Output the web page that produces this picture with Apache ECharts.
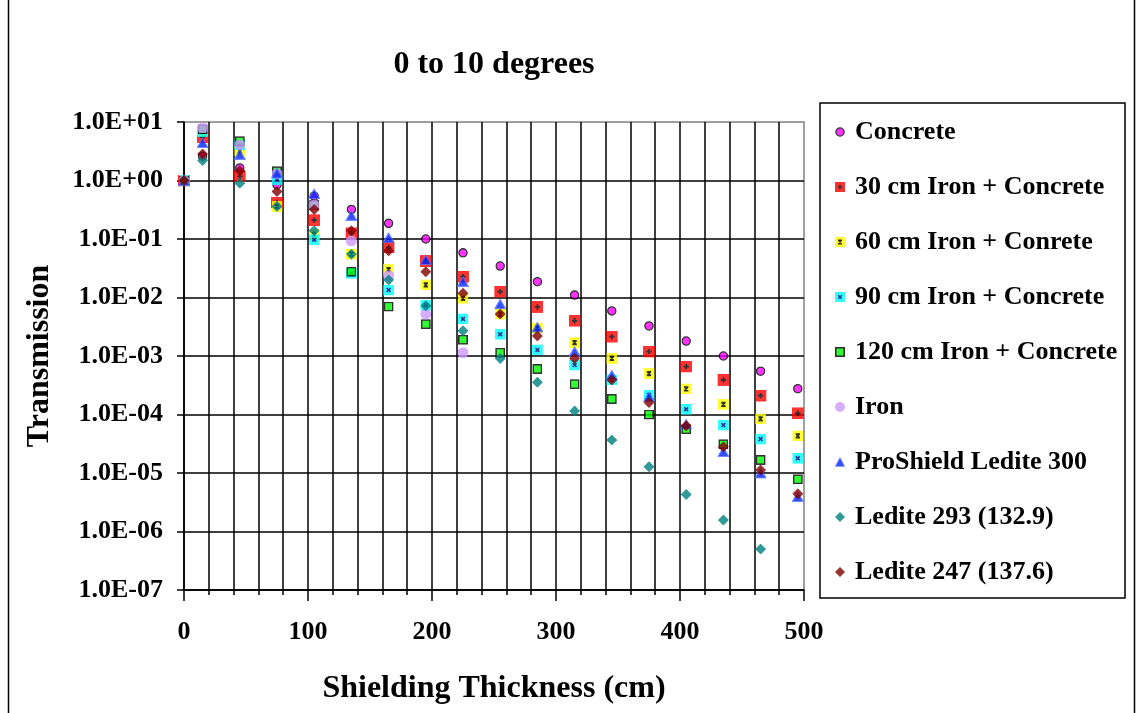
<!DOCTYPE html>
<html><head><meta charset="utf-8">
<script src="https://cdn.jsdelivr.net/npm/echarts@6/dist/echarts.min.js"></script>
<style>html,body{margin:0;padding:0;background:#fff}#c{width:1138px;height:713px}</style>
</head><body><div id="c"></div>
<script>
// ---- data ----
const thickness = [0, 15, 45, 75, 105, 135, 165, 195, 225, 255, 285, 315, 345, 375, 405, 435, 465, 495];
const seriesNames = ['Concrete', '30 cm Iron + Concrete', '60 cm Iron + Conrete', '90 cm Iron + Concrete',
  '120 cm Iron + Concrete', 'Iron', 'ProShield Ledite 300', 'Ledite 293 (132.9)', 'Ledite 247 (137.6)'];
const concrete  = [1.0, 2.6, 1.64, 0.85, 0.54, 0.32, 0.185, 0.100, 0.058, 0.0345, 0.0186, 0.011, 0.0059, 0.00326, 0.0018, 0.0010, 0.00055, 0.000276];
const iron30    = [1.0, 5.5, 1.18, 0.42, 0.21, 0.125, 0.072, 0.042, 0.0227, 0.0126, 0.0069, 0.0040, 0.00214, 0.00119, 0.00066, 0.00039, 0.00021, 0.000105];
const iron60    = [1.0, 7.0, 3.2, 0.36, 0.12, 0.055, 0.030, 0.0164, 0.0097, 0.0052, 0.0030, 0.00169, 0.00091, 0.00050, 0.000273, 0.000149, 0.000084, 0.000043];
const iron90    = [1.0, 6.9, 4.1, 1.03, 0.097, 0.026, 0.0134, 0.0074, 0.0043, 0.00235, 0.00127, 0.00070, 0.00039, 0.000215, 0.000123, 0.000066, 0.000038, 0.0000178];
const iron120   = [1.0, 7.5, 4.7, 1.44, 0.38, 0.0276, 0.0070, 0.0035, 0.0019, 0.00114, 0.00060, 0.00033, 0.000184, 0.000100, 0.000056, 0.000031, 0.0000167, 0.0000078];
const iron      = [1.0, 7.9, 4.1, 1.3, 0.38, 0.093, 0.0236, 0.0052, 0.00114];
const proshield = [1.0, 4.4, 2.76, 1.33, 0.59, 0.25, 0.105, 0.044, 0.0186, 0.0077, 0.0031, 0.00119, 0.00047, 0.00020, 0.000068, 0.000023, 0.0000099, 0.0000039];
const ledite293 = [1.0, 2.2, 0.90, 0.36, 0.139, 0.055, 0.020, 0.0072, 0.0027, 0.00091, 0.000355, 0.000115, 0.0000366, 0.0000128, 0.0000043, 0.00000157, 0.0000005];
const ledite247 = [1.0, 2.84, 1.47, 0.65, 0.32, 0.139, 0.063, 0.0276, 0.0118, 0.0052, 0.0022, 0.00091, 0.00039, 0.000161, 0.000064, 0.000028, 0.0000112, 0.0000044];
const xTickLabels = ['0', '100', '200', '300', '400', '500'];
const yTickLabels = ['1.0E-07', '1.0E-06', '1.0E-05', '1.0E-04', '1.0E-03', '1.0E-02', '1.0E-01', '1.0E+00', '1.0E+01'];

// ---- marker images ----
function svgImg(body) {
  const s = "<svg xmlns='http://www.w3.org/2000/svg' width='20' height='20' viewBox='0 0 20 20'>" + body + "</svg>";
  return 'image://data:image/svg+xml;charset=utf-8,' + encodeURIComponent(s);
}
const markers = [
  {sym: svgImg("<circle cx='10' cy='10' r='8.2' fill='#FF00FF' stroke='#000' stroke-width='2.6'/>"), size: 10},
  {sym: svgImg("<rect x='0' y='0' width='20' height='20' fill='#FF0000'/><path d='M10 5.5V14.5M5.5 10H14.5' stroke='#000' stroke-width='3'/>"), size: 12},
  {sym: svgImg("<rect x='0' y='0' width='20' height='20' fill='#FFFF00'/><path d='M6.5 6.5L13.5 13.5M13.5 6.5L6.5 13.5M6 6.5H14M6 13.5H14' stroke='#000' stroke-width='2.6'/>"), size: 11},
  {sym: svgImg("<rect x='0' y='0' width='20' height='20' fill='#00FFFF'/><path d='M6.5 6.5L13.5 13.5M13.5 6.5L6.5 13.5' stroke='#000080' stroke-width='3'/>"), size: 11},
  {sym: svgImg("<rect x='1.6' y='1.6' width='16.8' height='16.8' fill='#00FF00' stroke='#000' stroke-width='3.2'/>"), size: 10},
  {sym: svgImg("<circle cx='10' cy='10' r='10' fill='#CC99FF'/>"), size: 11},
  {sym: svgImg("<polygon points='10,1.5 19,18.5 1,18.5' fill='#0022FF' stroke='#4D6BFF' stroke-width='2'/>"), size: [12, 11]},
  {sym: svgImg("<polygon points='10,0 20,10 10,20 0,10' fill='#008080'/>"), size: 11},
  {sym: svgImg("<polygon points='10,0 20,10 10,20 0,10' fill='#800000'/>"), size: 11}
];
const allValues = [concrete, iron30, iron60, iron90, iron120, iron, proshield, ledite293, ledite247];

const FONT = "'Liberation Serif', 'Times New Roman', serif";
const series = seriesNames.map((name, i) => ({
  name: name,
  type: 'scatter',
  symbol: markers[i].sym,
  symbolSize: markers[i].size,
  data: allValues[i].map((v, k) => [thickness[k], v]),
  z: 3
}));

const chart = echarts.init(document.getElementById('c'), null, {renderer: 'canvas'});
chart.setOption({
  animation: false,
  backgroundColor: '#fff',
  title: {
    text: '0 to 10 degrees', left: 489, top: 44, textAlign: 'center',
    textStyle: {fontFamily: FONT, fontWeight: 'bold', fontSize: 32, color: '#000'}
  },
  grid: {left: 184, right: 334, top: 122, bottom: 123, show: true, borderColor: '#808080', borderWidth: 1.5, containLabel: false},
  xAxis: {
    type: 'value', min: 0, max: 500, interval: 100,
    axisLine: {show: true, onZero: false, lineStyle: {color: '#000', width: 1.5}},
    axisTick: {show: true, length: 11, lineStyle: {color: '#000', width: 1.5}},
    minorTick: {show: true, splitNumber: 5, length: 5, lineStyle: {color: '#000', width: 1.5}},
    splitLine: {show: true, showMaxLine: false, lineStyle: {color: '#000', width: 1.5}},
    minorSplitLine: {show: true, lineStyle: {color: '#000', width: 1.5}},
    axisLabel: {formatter: v => xTickLabels[Math.round(v / 100)], margin: 29,
      fontFamily: FONT, fontWeight: 'bold', fontSize: 26, color: '#000'},
    name: 'Shielding Thickness (cm)', nameLocation: 'middle', nameGap: 83,
    nameTextStyle: {fontFamily: FONT, fontWeight: 'bold', fontSize: 32, color: '#000'}
  },
  yAxis: {
    type: 'log', logBase: 10, min: 1e-7, max: 10, interval: 1, splitNumber: 8,
    axisLine: {show: true, onZero: false, lineStyle: {color: '#000', width: 1.5}},
    axisTick: {show: true, length: 7, lineStyle: {color: '#000', width: 1.5}},
    splitLine: {show: true, showMaxLine: false, lineStyle: {color: '#000', width: 1.5}},
    axisLabel: {formatter: v => yTickLabels[Math.round(Math.log10(v)) + 7], margin: 21,
      fontFamily: FONT, fontWeight: 'bold', fontSize: 26, color: '#000'},
    name: 'Transmission', nameLocation: 'middle', nameGap: 128,
    nameTextStyle: {fontFamily: FONT, fontWeight: 'bold', fontSize: 32, color: '#000'}
  },
  legend: {
    orient: 'vertical', left: 830, top: 117, padding: 0,
    itemWidth: 20, itemHeight: 10, itemGap: 25,
    textStyle: {fontFamily: FONT, fontWeight: 'bold', fontSize: 26, lineHeight: 30, color: '#000'},
    data: seriesNames
  },
  graphic: [
    {type: 'rect', shape: {x: 820, y: 103, width: 305, height: 495}, style: {fill: 'none', stroke: '#000', lineWidth: 1.5}, z: 10},
    {type: 'line', shape: {x1: 8.5, y1: 0, x2: 8.5, y2: 713}, style: {stroke: '#000', lineWidth: 1.5}},
    {type: 'line', shape: {x1: 1134.5, y1: 0, x2: 1134.5, y2: 713}, style: {stroke: '#000', lineWidth: 1.5}}
  ],
  series: series
});
</script>
</body></html>
